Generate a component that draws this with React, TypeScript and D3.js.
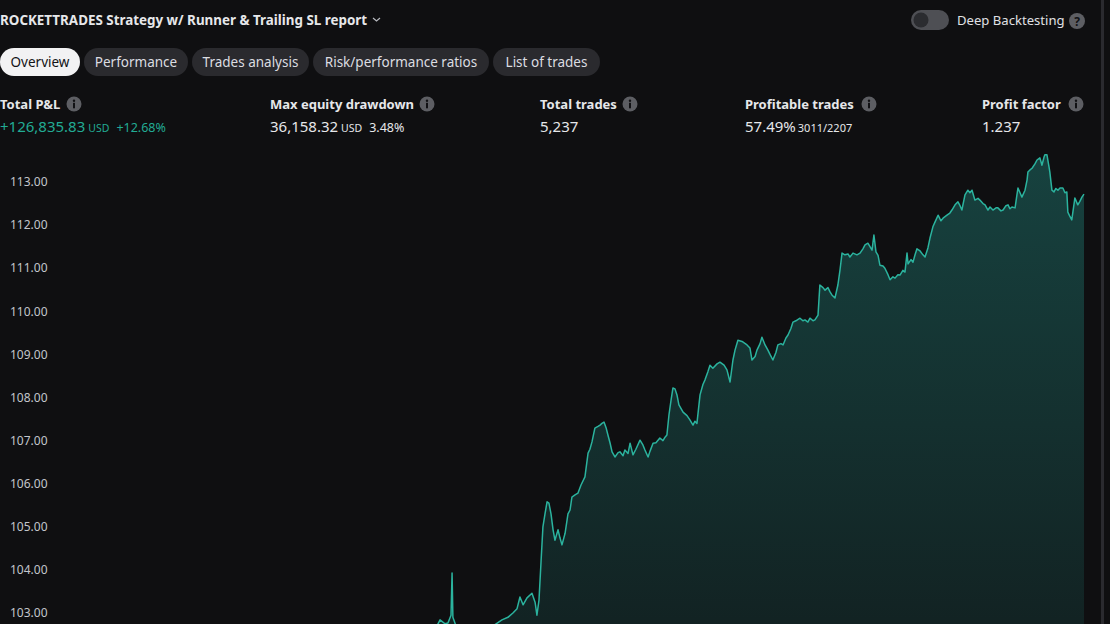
import React from "react";
import * as d3 from "d3";

const W = 1110;
const H = 624;

const trades = [
  0, 600, 1200, 1700, 2000, 2100,
  2126, 2150, 2164, 2179, 2184, 2188, 2203, 2271, 2367, 2425, 2454, 2478, 2498, 2512,
  2527, 2546, 2570, 2585, 2594, 2604, 2614, 2623, 2633, 2643, 2652, 2662, 2672, 2681,
  2696, 2705, 2715, 2730, 2744, 2754, 2763, 2778, 2792, 2807, 2826, 2841, 2850, 2860,
  2874, 2889, 2899, 2908, 2918, 2928, 2937, 2947, 2957, 2971, 2986, 2995, 3010, 3019,
  3034, 3044, 3058, 3072, 3092, 3106, 3116, 3131, 3140, 3155, 3169, 3188, 3203, 3213,
  3222, 3232, 3242, 3251, 3261, 3271, 3280, 3300, 3319, 3333, 3348, 3357, 3367, 3382,
  3396, 3406, 3420, 3430, 3444, 3464, 3478, 3498, 3512, 3527, 3541, 3551, 3565, 3585,
  3609, 3623, 3633, 3648, 3657, 3672, 3681, 3696, 3710, 3720, 3734, 3749, 3758, 3773,
  3783, 3797, 3807, 3821, 3831, 3845, 3865, 3879, 3889, 3903, 3913, 3928, 3937, 3952,
  3957, 3961, 3976, 3986, 4000, 4010, 4019, 4034, 4048, 4058, 4068, 4082, 4097, 4106,
  4121, 4140, 4155, 4169, 4179, 4193, 4203, 4213, 4222, 4232, 4242, 4251, 4266, 4275,
  4290, 4300, 4314, 4324, 4338, 4348, 4362, 4372, 4382, 4387, 4401, 4411, 4420, 4430,
  4445, 4459, 4469, 4483, 4493, 4507, 4517, 4532, 4546, 4556, 4575, 4589, 4599, 4614,
  4628, 4638, 4647, 4662, 4676, 4686, 4696, 4710, 4725, 4734, 4749, 4759, 4773, 4783,
  4797, 4812, 4821, 4836, 4846, 4860, 4870, 4879, 4889, 4904, 4913, 4918, 4928, 4937,
  4952, 4962, 4966, 4976, 4986, 5000, 5010, 5024, 5034, 5044, 5048, 5058, 5068, 5072,
  5082, 5092, 5101, 5111, 5121, 5135, 5145, 5154, 5159, 5169, 5178, 5193, 5207, 5217,
  5227, 5237,
];

const equity = [
  100.0, 100.6, 101.3, 101.9, 102.3, 102.6,
  102.84, 102.75, 102.77, 102.95, 103.93, 102.9, 102.7, 102.6, 102.65, 102.84, 102.9, 103.0, 103.1, 103.37,
  103.19, 103.35, 103.46, 103.25, 102.95, 103.3, 104.2, 105.0, 105.3, 105.58, 105.55, 105.3, 104.93, 104.69,
  104.93, 104.75, 104.58, 104.85, 105.3, 105.39, 105.69, 105.74, 105.78, 105.97, 106.16, 106.71, 106.8, 106.97,
  107.29, 107.33, 107.36, 107.4, 107.43, 107.3, 107.13, 106.95, 106.74, 106.62, 106.72, 106.74, 106.65, 106.78,
  106.7, 106.94, 106.67, 106.8, 107.01, 106.9, 106.78, 106.62, 106.75, 106.94, 106.95, 107.06, 107.0, 107.08,
  107.13, 107.6, 107.94, 108.22, 108.2, 108.05, 107.83, 107.66, 107.58, 107.48, 107.36, 107.45, 107.4, 108.06,
  108.3, 108.41, 108.6, 108.75, 108.68, 108.78, 108.82, 108.75, 108.64, 108.36, 108.87, 109.1, 109.33, 109.3,
  109.22, 109.15, 108.87, 108.95, 109.1, 109.25, 109.4, 109.22, 109.1, 109.0, 108.87, 109.05, 109.22, 109.25,
  109.22, 109.38, 109.45, 109.6, 109.75, 109.78, 109.84, 109.78, 109.8, 109.75, 109.84, 109.78, 109.8, 109.91,
  110.3, 110.61, 110.55, 110.49, 110.55, 110.45, 110.38, 110.31, 110.61, 110.95, 111.35, 111.31, 111.33, 111.26,
  111.35, 111.31, 111.35, 111.45, 111.54, 111.58, 111.5, 111.42, 111.77, 111.38, 111.3, 111.07, 111.05, 111.0,
  110.85, 110.73, 110.8, 110.77, 110.85, 110.84, 110.95, 110.91, 111.35, 111.1, 111.2, 111.14, 111.3, 111.45,
  111.4, 111.31, 111.26, 111.47, 111.7, 111.96, 112.07, 112.23, 112.1, 112.16, 112.23, 112.28, 112.35, 112.47,
  112.54, 112.45, 112.35, 112.7, 112.81, 112.75, 112.81, 112.58, 112.62, 112.58, 112.5, 112.47, 112.35, 112.42,
  112.35, 112.4, 112.4, 112.33, 112.35, 112.45, 112.47, 112.38, 112.42, 112.4, 112.7, 112.86, 112.75, 112.65,
  112.81, 113.05, 113.23, 113.28, 113.32, 113.42, 113.51, 113.56, 113.39, 113.58, 113.63, 113.63, 113.35, 113.23,
  112.81, 112.77, 112.85, 112.81, 112.86, 112.86, 112.75, 112.77, 112.3, 112.2, 112.12, 112.63, 112.47, 112.55,
  112.65, 112.72,
];

const yTicks = [103, 104, 105, 106, 107, 108, 109, 110, 111, 112, 113];

const tabLabels = ["Overview", "Performance", "Trades analysis", "Risk/performance ratios", "List of trades"];
const tabStarts = [0, 84, 192, 313, 493];
const tabEnds = [80, 188, 309, 489, 600];

const statLabels = ["Total P&L", "Max equity drawdown", "Total trades", "Profitable trades", "Profit factor"];
const statMain = ["+126,835.83", "36,158.32", "5,237", "57.49%", "1.237"];
const statUnit = ["USD", "USD", "", "", ""];
const statExtra = ["+12.68%", "3.48%", "", "3011/2207", ""];
const statX = [0, 270, 540, 745, 982];
const statIconX = [74, 427, 630, 869, 1076];

const FONT = "'Noto Sans', 'Open Sans', sans-serif";

function InfoIcon({ cx, cy }: { cx: number; cy: number }) {
  return (
    <g>
      <circle cx={cx} cy={cy} r={7.5} fill="#5d5e63" />
      <circle cx={cx} cy={cy - 3.3} r={1.2} fill="#111114" />
      <rect x={cx - 1} y={cy - 1.2} width={2} height={5.5} fill="#111114" />
    </g>
  );
}

export default function App() {
  const x = d3.scaleLinear().domain([0, 5237]).range([0, 1084]);
  const y = d3.scaleLinear().domain([103, 113]).range([613, 182]);
  const pts = trades.map((t, i) => [t, equity[i]] as [number, number]);
  const line = d3
    .line<[number, number]>()
    .x((d) => x(d[0]))
    .y((d) => y(d[1]));
  const area = d3
    .area<[number, number]>()
    .x((d) => x(d[0]))
    .y0(H + 2)
    .y1((d) => y(d[1]));

  return (
    <div style={{ position: "fixed", left: 0, top: 0, width: W, height: H, background: "#0f0f11" }}>
      <svg width={W} height={H} style={{ display: "block", fontFamily: FONT }}>
        <defs>
          <linearGradient id="fillGrad" gradientUnits="userSpaceOnUse" x1="0" y1="150" x2="0" y2={H}>
            <stop offset="0" stopColor="#26a69a" stopOpacity={0.34} />
            <stop offset="1" stopColor="#26a69a" stopOpacity={0.13} />
          </linearGradient>
          <clipPath id="plotClip">
            <rect x={0} y={140} width={1085} height={H - 140} />
          </clipPath>
        </defs>
        <rect x={0} y={0} width={W} height={H} fill="#0f0f11" />

        <g clipPath="url(#plotClip)">
          <path d={area(pts) || ""} fill="url(#fillGrad)" />
          <path d={line(pts) || ""} fill="none" stroke="#2bb39e" strokeWidth={1.5} strokeLinejoin="round" />
        </g>

        {/* y axis labels */}
        {yTicks.map((v) => (
          <text key={v} x={10} y={y(v)} dy="0.35em" fontSize={12} fill="#c3c5cb">
            {v.toFixed(2)}
          </text>
        ))}

        {/* right border bar */}
        <rect x={1101} y={0} width={3} height={H} fill="#2a2a2f" />

        {/* title */}
        <text x={0} y={25} fontSize={13.4} fontWeight={700} fill="#e6e7ea">
          ROCKETTRADES Strategy w/ Runner &amp; Trailing SL report
        </text>
        <path d="M373,18 l3.5,3 l3.5,-3" fill="none" stroke="#b8bac0" strokeWidth={1.2} />

        {/* deep backtesting toggle */}
        <rect x={911} y={10} width={38} height={20} rx={10} fill="#4e4f54" />
        <circle cx={921} cy={20} r={7.5} fill="#2b2c30" />
        <text x={957} y={25} fontSize={13.1} fill="#e0e1e5">
          Deep Backtesting
        </text>
        <circle cx={1077} cy={21} r={8} fill="#5d5e63" />
        <text x={1077} y={25.5} fontSize={12} fontWeight={700} fill="#111114" textAnchor="middle">
          ?
        </text>

        {/* tabs */}
        {tabLabels.map((t, i) => {
          const active = i === 0;
          const w = tabEnds[i] - tabStarts[i];
          return (
            <g key={t}>
              <rect x={tabStarts[i]} y={48} width={w} height={28} rx={14} fill={active ? "#f2f2f3" : "#2a2a2e"} />
              <text
                x={tabStarts[i] + w / 2}
                y={62}
                dy="0.35em"
                textAnchor="middle"
                fontSize={13.5}
                fill={active ? "#131316" : "#dcdde1"}
              >
                {t}
              </text>
            </g>
          );
        })}

        {/* stats */}
        {statLabels.map((s, i) => (
          <g key={s}>
            <text x={statX[i]} y={109} fontSize={13} fontWeight={700} fill="#e6e7ea">
              {s}
            </text>
            <InfoIcon cx={statIconX[i]} cy={104} />
            <text x={statX[i]} y={132} fontSize={15} fill={i === 0 ? "#22ab94" : "#e6e7ea"}>
              <tspan>{statMain[i]}</tspan>
              {statUnit[i] ? (
                <tspan fontSize={10.5} dx={3}>
                  {statUnit[i]}
                </tspan>
              ) : null}
              {statExtra[i] ? (
                <tspan fontSize={i === 3 ? 11 : 12.5} dx={i === 3 ? 2 : 7}>
                  {statExtra[i]}
                </tspan>
              ) : null}
            </text>
          </g>
        ))}
      </svg>
    </div>
  );
}
